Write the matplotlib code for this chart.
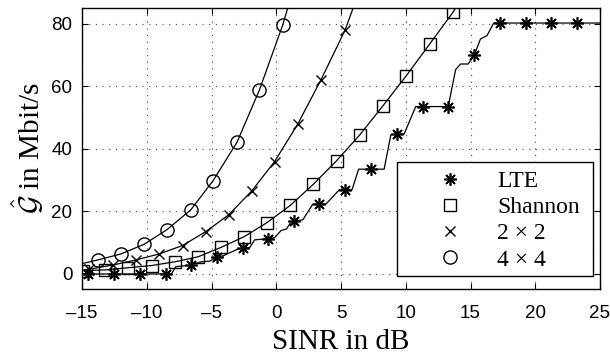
import matplotlib
matplotlib.use("Agg")
import matplotlib.pyplot as plt
from matplotlib.patches import Rectangle

plt.rcParams['font.family'] = ['Liberation Sans', 'DejaVu Sans']
plt.rcParams['mathtext.fontset'] = 'cm'

# ---- data ----
# LTE (step-like curve) and its markers
lte_line_x = [-15, -8.1, -7.75, -6.6, -5.8, -5.13, -4.57, -4.1, -3.1, -2.57, -2.05, -1.67,
              -0.57, -0.13, 0.38, 0.8, 1.1, 1.28, 2.05, 2.82, 3.33, 3.85, 4.87, 5.33, 5.85,
              6.36, 7.35, 8.33, 8.85, 9.35, 9.87, 10.77, 11.3, 13.28, 13.85, 14.23, 14.82,
              15.31, 15.77, 16.28, 16.79, 17.3, 25]
lte_line_y = [0, 0, 2.35, 2.8, 3.9, 4.1, 5.5, 5.8, 7.7, 8.4, 8.4, 10.9,
              11.3, 11.6, 13.9, 14.4, 16.4, 16.8, 17.3, 22.3, 22.3, 22.4, 26.9, 26.9, 26.9,
              33.5, 33.5, 33.5, 44.5, 44.7, 44.7, 53.5, 53.5, 53.5, 65.3, 67.1, 67.1,
              70.1, 75.1, 76.2, 80.2, 80.2, 80.2]
lte_mark_x = [-14.5, -12.5, -10.55, -8.5, -6.55, -4.6, -2.6, -0.6, 1.35, 3.33, 5.33, 7.35,
              9.35, 11.3, 13.3, 15.3, 17.3, 19.25, 21.2, 23.2]
lte_mark_y = [0, 0, 0, 0, 2.8, 5.5, 8.3, 11.3, 16.8, 22.3, 26.9, 33.5,
              44.7, 53.5, 53.5, 70.0, 80.2, 80.2, 80.2, 80.2]

# Shannon
sh_line_x = [-15, -14.92, -13.21, -11.41, -9.62, -7.82, -6.03, -4.26, -2.49, -0.72, 1.08,
             2.87, 4.66, 6.46, 8.25, 10.05, 11.85, 13.64, 14.3]
sh_line_y = [1.0, 1.1, 1.3, 2.0, 2.7, 3.9, 5.5, 8.5, 11.9, 16.4, 21.9,
             28.7, 36.2, 44.5, 53.8, 63.4, 73.5, 83.6, 88.0]
sh_mark_x = [-14.92, -13.21, -11.41, -9.62, -7.82, -6.03, -4.26, -2.49, -0.72, 1.08,
             2.87, 4.66, 6.46, 8.25, 10.05, 11.85, 13.64]
sh_mark_y = [1.1, 1.3, 2.0, 2.7, 3.9, 5.5, 8.5, 11.9, 16.4, 21.9,
             28.7, 36.2, 44.5, 53.8, 63.4, 73.5, 83.6]

# 2 x 2
m2_line_x = [-15, -14.49, -12.57, -10.82, -9.05, -7.23, -5.46, -3.67, -1.9, -0.13, 1.66,
             3.46, 5.31, 6.2]
m2_line_y = [1.2, 1.5, 2.9, 4.5, 6.4, 9.1, 13.5, 18.9, 26.5, 35.9, 47.9,
             62.1, 77.9, 88.0]
m2_mark_x = [-14.49, -12.57, -10.82, -9.05, -7.23, -5.46, -3.67, -1.9, -0.13, 1.66, 3.46, 5.31]
m2_mark_y = [1.5, 2.9, 4.5, 6.4, 9.1, 13.5, 18.9, 26.5, 35.9, 47.9, 62.1, 77.9]

# 4 x 4
m4_line_x = [-15, -13.77, -12.0, -10.2, -8.46, -6.6, -4.88, -3.03, -1.3, 0.51, 1.1]
m4_line_y = [3.3, 4.5, 6.4, 9.5, 14.1, 20.5, 29.8, 42.1, 58.8, 79.7, 88.0]
m4_mark_x = [-13.77, -12.0, -10.2, -8.46, -6.6, -4.88, -3.03, -1.3, 0.51]
m4_mark_y = [4.5, 6.4, 9.5, 14.1, 20.5, 29.8, 42.1, 58.8, 79.7]

x_ticks = [-15, -10, -5, 0, 5, 10, 15, 20, 25]
y_ticks = [0, 20, 40, 60, 80]
labels = ['LTE', 'Shannon', '2 \u00d7 2', '4 \u00d7 4']

W, H = 610, 354
AX_L, AX_R, AX_T, AX_B = 82, 600, 8, 289
fig = plt.figure(figsize=(W / 100, H / 100), dpi=100)
ax = fig.add_axes([AX_L / W, (H - AX_B) / H, (AX_R - AX_L) / W, (AX_B - AX_T) / H])


def axfrac(px, py):
    return ((px - AX_L) / (AX_R - AX_L), (AX_B - py) / (AX_B - AX_T))


lw = 0.9
for lx, ly in [(lte_line_x, lte_line_y), (sh_line_x, sh_line_y),
               (m2_line_x, m2_line_y), (m4_line_x, m4_line_y)]:
    ax.plot(lx, ly, color='black', lw=lw, zorder=3)

ax.plot(lte_mark_x, lte_mark_y, ls='none', marker=(8, 2, 0), ms=9, mec='black',
        mew=1.2, label=labels[0], zorder=4)
ax.plot(sh_mark_x, sh_mark_y, ls='none', marker='s', ms=8, mfc='none', mec='black',
        mew=1.0, label=labels[1], zorder=4)
ax.plot(m2_mark_x, m2_mark_y, ls='none', marker='x', ms=7, mec='black',
        mew=1.0, label=labels[2], zorder=4)
ax.plot(m4_mark_x, m4_mark_y, ls='none', marker='o', ms=9.5, mfc='none', mec='black',
        mew=1.0, label=labels[3], zorder=4)

ax.set_xlim(-15, 25)
ax.set_ylim(-4.8, 85)
ax.set_xticks(x_ticks)
ax.set_yticks(y_ticks)
ax.set_xticklabels(['\u2013' + str(-t) if t < 0 else str(t) for t in x_ticks])
ax.tick_params(direction='in', length=4, width=0.8, top=True, right=True,
               labelsize=13.5, pad=7, colors='black')
ax.tick_params(axis='x', pad=11.5)
ax.grid(True, color='0.3', lw=0.8, ls=(0, (1, 5)))
for s in ax.spines.values():
    s.set_linewidth(1.0)

ax.set_xlabel('SINR in dB', family='Liberation Serif', fontsize=21, labelpad=5)
ax.set_ylabel(r'$\hat{\mathcal{G}}$ in Mbit/s', family='Liberation Serif', fontsize=21,
              labelpad=4)

# legend box (frame drawn separately to match the reference proportions)
x0, y0 = axfrac(397, 276)
x1, y1 = axfrac(593, 162)
box = Rectangle((x0, y0), x1 - x0, y1 - y0, transform=ax.transAxes, facecolor='white',
                edgecolor='black', lw=1.0, zorder=5)
ax.add_patch(box)
leg = ax.legend(loc='upper left', bbox_to_anchor=axfrac(397, 162),
                borderaxespad=0, prop={'family': 'Liberation Serif', 'size': 17},
                frameon=False, borderpad=0.35, handlelength=3.79, handletextpad=0.1,
                labelspacing=0.2)
leg.set_zorder(6)

fig.savefig('out.png', dpi=100)
